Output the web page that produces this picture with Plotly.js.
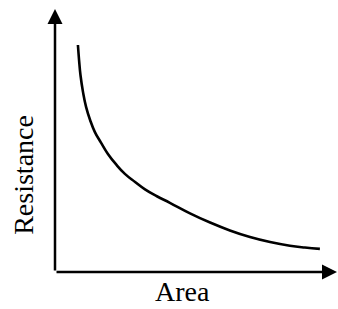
<!DOCTYPE html>
<html>
<head>
<meta charset="utf-8">
<script src="https://cdn.plot.ly/plotly-3.0.1.min.js"></script>
<style>html,body{margin:0;padding:0;background:#fff;}#chart{width:338px;height:309px;}</style>
</head>
<body>
<div id="chart"></div>
<script>
// Values (arbitrary units, axes 0..100)
const area = [8.1, 8.5, 9.0, 9.9, 11.0, 12.4, 14.1, 16.3, 18.7, 21.6, 24.7, 28.3, 31.8, 36.0, 40.6, 47.7, 54.8, 61.8, 68.9, 76.0, 83.0, 88.3, 93.6];
const resistance = [86.3, 80.6, 74.9, 68.4, 62.7, 57.8, 53.2, 49.1, 44.9, 40.9, 37.3, 34.2, 31.4, 28.8, 26.3, 22.3, 18.8, 15.8, 13.3, 11.4, 10.0, 9.3, 8.8];
const xLabel = "Area";
const yLabel = "Resistance";

const font = "'Liberation Serif', 'Times New Roman', serif";

const trace = {
  x: area, y: resistance, type: 'scatter', mode: 'lines',
  line: {color: '#000', width: 2.6, shape: 'spline', smoothing: 1.3},
  hoverinfo: 'skip'
};

const axisCommon = {range: [0, 100], showgrid: false, zeroline: false, showline: false,
  showticklabels: false, ticks: '', fixedrange: true};

const layout = {
  width: 338, height: 309,
  margin: {l: 55, r: 0, t: 9, b: 37, pad: 0},
  paper_bgcolor: '#fff', plot_bgcolor: '#fff',
  showlegend: false,
  xaxis: Object.assign({}, axisCommon),
  yaxis: Object.assign({}, axisCommon),
  annotations: [
    {xref: 'paper', yref: 'paper', x: 0, y: 1, ax: 0, ay: 263,
     showarrow: true, arrowhead: 2, arrowsize: 1.2, arrowwidth: 2.5, arrowcolor: '#000', text: ''},
    {xref: 'paper', yref: 'paper', x: 1, y: 0, ax: -283, ay: 0,
     showarrow: true, arrowhead: 2, arrowsize: 1.2, arrowwidth: 2.5, arrowcolor: '#000', text: ''},
    {xref: 'paper', yref: 'paper', x: 0.452, y: -0.076, xanchor: 'center', yanchor: 'middle',
     showarrow: false, text: xLabel, font: {family: font, size: 28, color: '#000'}},
    {xref: 'paper', yref: 'paper', x: -0.11, y: 0.369, xanchor: 'center', yanchor: 'middle',
     textangle: -90, showarrow: false, text: yLabel, font: {family: font, size: 28, color: '#000'}}
  ]
};

Plotly.newPlot('chart', [trace], layout, {staticPlot: true, displayModeBar: false});
</script>
</body>
</html>
